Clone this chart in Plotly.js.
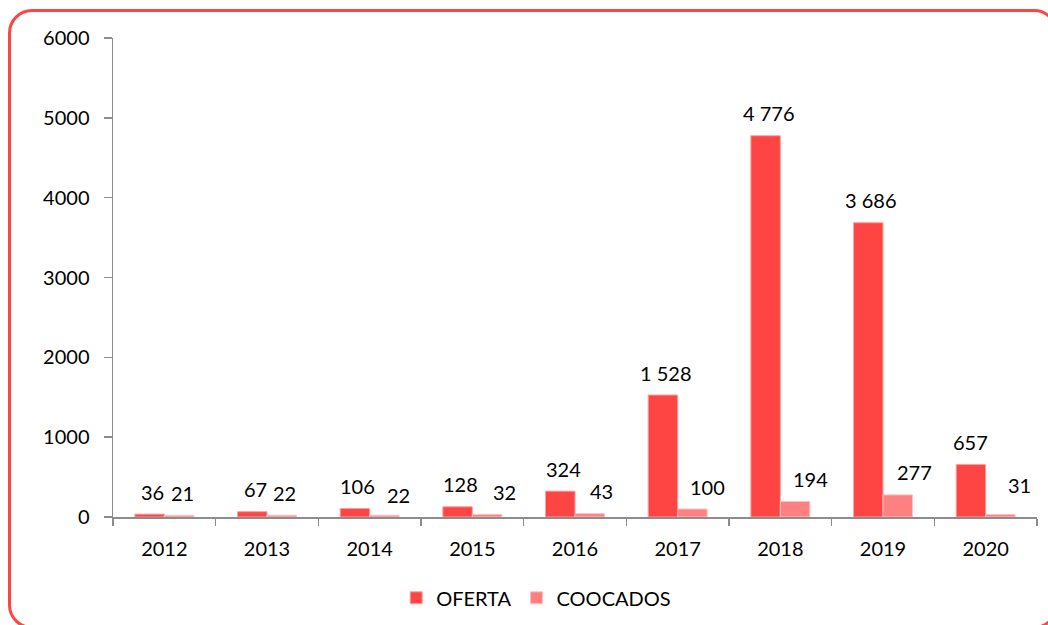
<!DOCTYPE html>
<html>
<head>
<meta charset="utf-8">
<script src="https://cdn.plot.ly/plotly-3.0.1.min.js"></script>
<style>
  html, body { margin: 0; padding: 0; background: #ffffff; overflow: hidden; }
  #wrap { position: relative; width: 1048px; height: 625px; overflow: hidden; }
  #frame {
    position: absolute; left: 8px; top: 9px; width: 1050px; height: 620px;
    border: 3px solid #ff4444; border-radius: 24px; box-sizing: border-box;
    pointer-events: none; z-index: 5;
  }
  #chart { position: absolute; left: 0; top: 0; width: 1048px; height: 625px; }
</style>
</head>
<body>
<div id="wrap">
  <div id="chart"></div>
  <div id="frame"></div>
</div>
<script>
// Years on the category axis
const years = ['2012', '2013', '2014', '2015', '2016', '2017', '2018', '2019', '2020'];
// Series values
const oferta = [36, 67, 106, 128, 324, 1528, 4776, 3686, 657];
const coocados = [21, 22, 22, 32, 43, 100, 194, 277, 31];
const seriesNames = ['OFERTA', 'COOCADOS'];
const yTicks = [0, 1000, 2000, 3000, 4000, 5000, 6000];

// Small pixel nudges for the value labels so neighbours don't collide
const ofertaLabelDx = [3, 3, 3, 3, 3, 3, 3, 3, 0];
const coocadosLabelDx = [3, 3, 14, 17, 12, 15, 15, 17, 19];
const coocadosLabelDy = [0, 0, -2, 0, 0, 0, 0, 0, 7];

const FONT = 'Lato, "Open Sans", sans-serif';
const FS = 20;
const GAP = 0.426;
const half = (1 - GAP) / 4;

// Thousands with a space, e.g. 1 528
function fmt(v) {
  return String(v).replace(/\B(?=(\d{3})+(?!\d))/g, ' ');
}

const traces = [
  {
    type: 'bar', name: seriesNames[0], x: years, y: oferta,
    marker: { color: '#ff4444', line: { color: '#ffa0a0', width: 1 } },
    hoverinfo: 'skip'
  },
  {
    type: 'bar', name: seriesNames[1], x: years, y: coocados,
    marker: { color: '#ff8080', line: { color: '#ffc0c0', width: 1 } },
    hoverinfo: 'skip'
  }
];

const labelFont = { family: FONT, size: FS, color: '#000' };
const annotations = [];
years.forEach((yr, i) => {
  annotations.push({
    x: i - half, y: oferta[i], xref: 'x', yref: 'y', text: fmt(oferta[i]),
    showarrow: false, xshift: ofertaLabelDx[i], yshift: 22.5, font: labelFont
  });
  annotations.push({
    x: i + half, y: coocados[i], xref: 'x', yref: 'y', text: fmt(coocados[i]),
    showarrow: false, xshift: coocadosLabelDx[i], yshift: 22.5 + coocadosLabelDy[i], font: labelFont
  });
});

const layout = {
  width: 1048, height: 625,
  margin: { l: 113, r: 11, t: 38, b: 108, autoexpand: false },
  paper_bgcolor: '#ffffff', plot_bgcolor: '#ffffff',
  barmode: 'group', bargap: GAP, bargroupgap: 0,
  font: { family: FONT, size: FS, color: '#000' },
  showlegend: true,
  legend: {
    orientation: 'h', x: 0.458, xanchor: 'center', y: -0.128, yanchor: 'top',
    font: { family: FONT, size: FS, color: '#000' }, itemwidth: 30,
    traceorder: 'normal'
  },
  xaxis: {
    type: 'category', showgrid: false, showline: true, linecolor: '#8c8c8c', linewidth: 1.5,
    ticks: 'outside', tickson: 'boundaries', ticklen: 7, tickcolor: '#8c8c8c', tickwidth: 1.5,
    ticklabelstandoff: 13,
    tickfont: { family: FONT, size: FS, color: '#000' }, fixedrange: true
  },
  yaxis: {
    range: [0, 6000], tickvals: yTicks, ticktext: yTicks.map(String),
    showgrid: false, zeroline: false, showline: true, linecolor: '#8c8c8c', linewidth: 1.5,
    ticks: 'outside', ticklen: 8, tickcolor: '#8c8c8c', tickwidth: 1.5,
    ticklabelstandoff: 10,
    tickfont: { family: FONT, size: FS, color: '#000' }, fixedrange: true
  },
  annotations: annotations
};

Plotly.newPlot('chart', traces, layout, { displayModeBar: false, staticPlot: true });
</script>
</body>
</html>
